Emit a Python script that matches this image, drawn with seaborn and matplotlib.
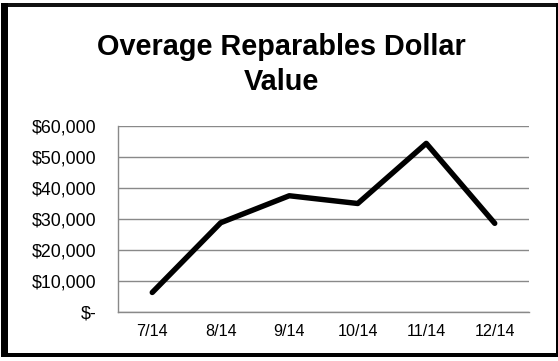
import matplotlib
matplotlib.use("Agg")
import matplotlib.pyplot as plt
from matplotlib.patches import Rectangle
from matplotlib.ticker import FuncFormatter, FixedLocator
import seaborn as sns
import pandas as pd

months = ["7/14", "8/14", "9/14", "10/14", "11/14", "12/14"]
dollar_value = [6300, 28800, 37500, 35000, 54400, 28600]
title_lines = ["Overage Reparables Dollar", "Value"]

sns.set_theme(style="white")
plt.rcParams["font.family"] = ["Liberation Sans", "DejaVu Sans"]

W, H = 558, 361
fig = plt.figure(figsize=(W / 100, H / 100), dpi=100)
fig.patch.set_facecolor("white")

# plot area in pixel terms
left, right, top, bottom = 118, 529, 126, 312
ax = fig.add_axes([left / W, 1 - bottom / H, (right - left) / W, (bottom - top) / H])

df = pd.DataFrame({"month": months, "value": dollar_value})
df["pos"] = range(len(months))
sns.lineplot(data=df, x="pos", y="value", ax=ax, color="black", linewidth=3.9,
             sort=False, solid_capstyle="round", solid_joinstyle="round")

grid_color = "#898989"
ax.set_xlim(-0.5, len(months) - 0.5)
ax.set_ylim(0, 60000)
ax.yaxis.set_major_locator(FixedLocator(range(0, 60001, 10000)))
ax.yaxis.set_major_formatter(FuncFormatter(lambda v, p: "$-" if v == 0 else f"${int(v):,}"))
ax.yaxis.grid(True, color=grid_color, linewidth=1.0)
ax.set_axisbelow(True)

ax.set_xticks(range(len(months)))
ax.set_xticklabels(months)
ax.set_xticks([i - 0.5 for i in range(len(months) + 1)], minor=True)
ax.tick_params(axis="x", which="major", length=0, pad=8.5, labelsize=11.6, colors="black")
ax.tick_params(axis="x", which="minor", length=3.5, width=1.0, color=grid_color, direction="out")
ax.tick_params(axis="y", which="major", length=3.8, width=1.0, color=grid_color,
               direction="out", pad=11.5, labelsize=12.8, labelcolor="black")
ax.set_xlabel("")
ax.set_ylabel("")

for s in ["top", "right"]:
    ax.spines[s].set_visible(False)
for s in ["left", "bottom"]:
    ax.spines[s].set_color(grid_color)
    ax.spines[s].set_linewidth(1.0)

# title, two centred lines
cx = 281 / W
fig.text(cx, 1 - 55 / H, title_lines[0], ha="center", va="baseline",
         fontsize=20.8, fontweight="bold", color="black")
fig.text(cx, 1 - 90 / H, title_lines[1], ha="center", va="baseline",
         fontsize=20.8, fontweight="bold", color="black")

# chart frame
def px_rect(x0, y0, x1, y1, color="black"):
    fig.patches.append(Rectangle((x0 / W, 1 - y1 / H), (x1 - x0) / W, (y1 - y0) / H,
                                 transform=fig.transFigure, facecolor=color,
                                 edgecolor="none", zorder=10))

px_rect(1, 3, W, 7, "#111111")
px_rect(1, 3, 8, 356)
px_rect(1, 353, W, 357)
px_rect(556, 3, W, 357)

fig.savefig("out.png", dpi=100)
